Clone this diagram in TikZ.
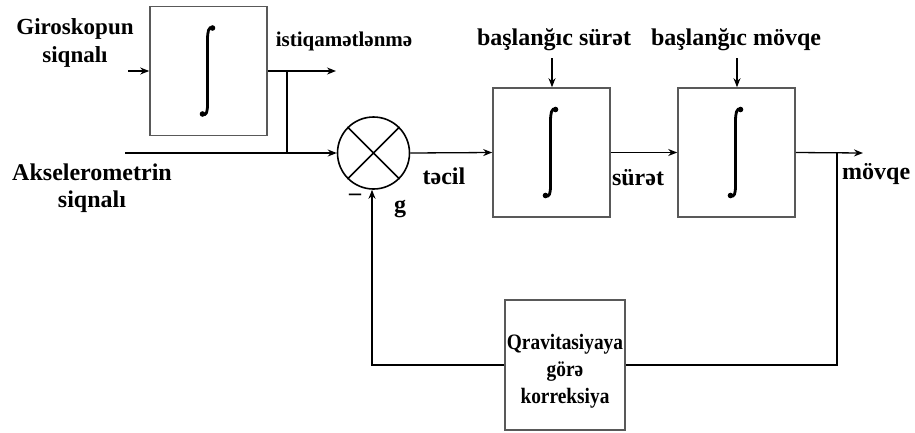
\documentclass[tikz,border=0pt]{standalone}
\usepackage{fontspec}
\setmainfont{Liberation Serif}
\newfontfamily\fbfont{Liberation Serif}[FakeStretch=0.88]
\usetikzlibrary{arrows.meta,calc}
\begin{document}
\begin{tikzpicture}[x=1pt,y=-1pt,
  box/.style={draw=black!65,line width=1.6pt,rectangle,minimum width=117pt,minimum height=129pt,inner sep=0pt},
  conn/.style={line width=1.3pt,-{Stealth[length=9pt,width=7pt]}},
  plain/.style={line width=1.3pt},
  lbl/.style={font=\fontsize{24}{27}\selectfont\bfseries,inner sep=0pt,align=center},
  integ/.pic={
    \draw[line width=2.8pt,line cap=round] (5,-43) .. controls (1,-45) and (0,-39) .. (0,-31) -- (0,33) .. controls (0,41) and (-1,45) .. (-5,43);
    \fill (5,-43) circle (2.8pt);
    \fill (-5,43) circle (2.8pt);
  }]
\useasboundingbox (0,0) rectangle (915,432);
% blocks
\node[box] (b1) at (208.5,71) {};
\node[draw=black,line width=1.6pt,circle,minimum size=72pt,inner sep=0pt] (sum) at (373.5,153) {};
\node[box] (b2) at (551.5,152.5) {};
\node[box] (b3) at (736.5,152.5) {};
\node[box,minimum width=120pt,minimum height=130pt] (fb) at (565,365) {};
\node[font=\fbfont\fontsize{22}{27}\selectfont\bfseries,align=center,inner sep=0pt] (fbt) at (565,371) {Qravitasiyaya\\görə\\korreksiya};
\pic at ($(b1.center)+(-1,0)$) {integ};
\pic at ($(b2.center)+(-1,0)$) {integ};
\pic at ($(b3.center)+(-1,0)$) {integ};
\draw[line width=1.6pt] (sum.45) -- (sum.225) (sum.135) -- (sum.315);
% coordinates
\coordinate (gin) at (128,71);
\coordinate (o1) at (336,71);
\coordinate (j1) at (287,71);
\coordinate (ain) at (125,153);
\coordinate (j2) at (287,153);
\coordinate (o3) at (863,153);
\coordinate (j3) at (837,153);
\coordinate (fr) at (837,365);
\coordinate (fl) at (372,365);
\coordinate (vin) at (552,58);
\coordinate (pin) at (737,58);
% connectors
\draw[conn] (gin) -- (b1.west |- gin);
\draw[conn] (b1.east |- o1) -- (o1);
\draw[plain] (j1) -- (j2);
\draw[conn] (ain) -- (sum.west);
\draw[conn] (sum.east) -- (b2.west);
\draw[conn] (b2.east) -- (b3.west);
\draw[conn] (b3.east) -- (o3);
\draw[plain] (j3) -- (fr) -- (fb.east |- fr);
\draw[conn] (fb.west |- fl) -- (fl) -- (fl |- sum.south);
\draw[conn] (vin) -- (vin |- b2.north);
\draw[conn] (pin) -- (pin |- b3.north);
% labels
\node[lbl,font=\fontsize{23}{28}\selectfont\bfseries] (lg) at (75,43) {Giroskopun\\siqnalı};
\node[lbl,font=\fontsize{21}{24}\selectfont\bfseries] (li) at (344,41) {istiqamətlənmə};
\node[lbl] (la) at (92,188) {Akselerometrin\\siqnalı};
\node[lbl] (lt) at (444,176) {təcil};
\node[lbl] (ls) at (638,178) {sürət};
\node[lbl,anchor=west] (lm) at (842,174) {mövqe};
\node[lbl] (lv) at (554,40) {başlanğıc sürət};
\node[lbl] (lp) at (736,40) {başlanğıc mövqe};
\node[lbl] (lminus) at (355,197) {–};
\node[lbl] (lgg) at (400,209) {g};
\end{tikzpicture}
\end{document}
